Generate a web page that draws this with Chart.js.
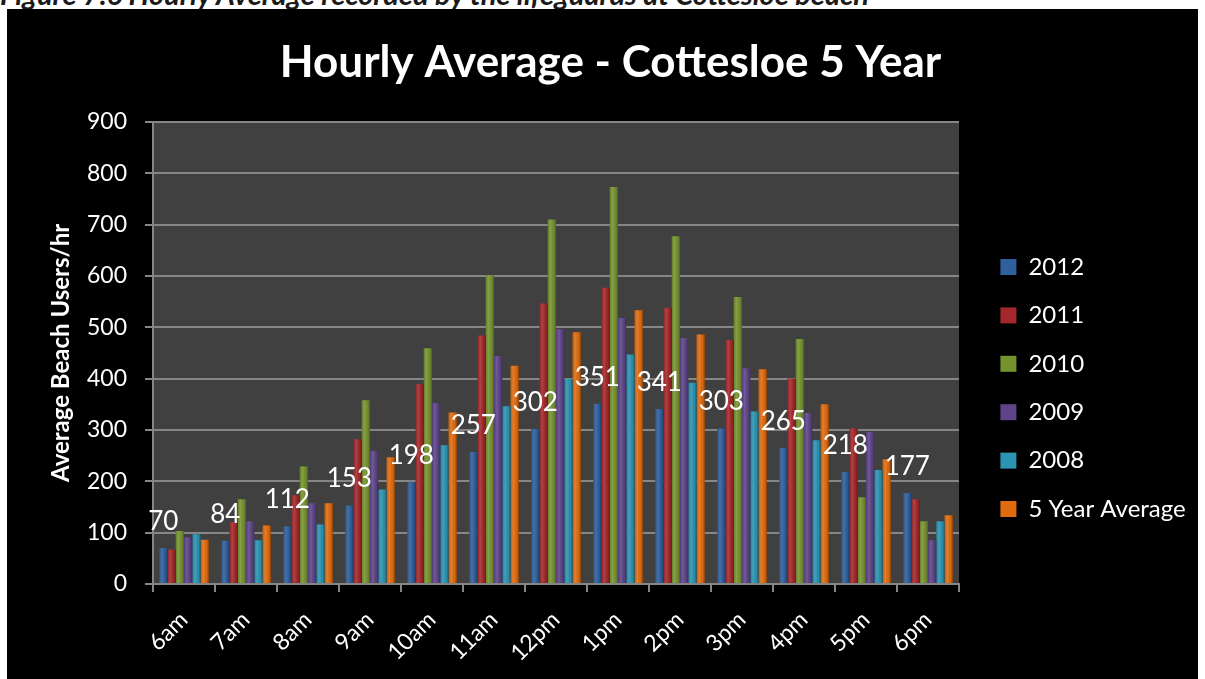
<!DOCTYPE html>
<html>
<head>
<meta charset="utf-8">
<script src="https://cdn.jsdelivr.net/npm/chart.js@4.4.1/dist/chart.umd.min.js"></script>
<style>
    html, body { margin: 0; padding: 0; background: #ffffff; }
    body { width: 1205px; height: 679px; position: relative; overflow: hidden; }
    #caption {
        position: absolute; left: 0; top: -20px; line-height: 28px;
        font-family: Lato, "Open Sans", sans-serif; font-weight: bold; font-style: italic;
        font-size: 29px; color: #1a1a1a; white-space: nowrap;
    }
    #wrap {
        position: absolute; left: 7px; top: 9px; width: 1191px; height: 670px;
        background: #000000;
    }
</style>
</head>
<body>
<div id="caption">Figure 7.6 Hourly Average recorded by the lifeguards at Cottesloe beach</div>
<div id="wrap"><canvas id="hourlyChart"></canvas></div>
<script>
// Hourly average beach users - Cottesloe
const hours = ['6am', '7am', '8am', '9am', '10am', '11am', '12pm', '1pm', '2pm', '3pm', '4pm', '5pm', '6pm'];
const y2012 = [70, 84, 112, 153, 198, 257, 302, 351, 341, 303, 265, 218, 177];
const y2011 = [67, 120, 173, 282, 389, 484, 546, 577, 538, 475, 400, 303, 165];
const y2010 = [103, 165, 229, 358, 459, 601, 710, 773, 677, 559, 477, 169, 122];
const y2009 = [91, 122, 157, 259, 352, 444, 496, 518, 479, 420, 333, 296, 85];
const y2008 = [97, 85, 116, 184, 270, 346, 399, 447, 392, 336, 280, 222, 122];
const avg5 = [86, 114, 157, 247, 334, 425, 490, 533, 486, 418, 350, 243, 134];
const yTicks = [0, 100, 200, 300, 400, 500, 600, 700, 800, 900];

const FONT = 'Lato, "Open Sans", sans-serif';

// dark grey plot area
const plotBackground = {
    id: 'plotBackground',
    beforeDraw(chart) {
        const { ctx, chartArea: a } = chart;
        ctx.save();
        ctx.fillStyle = '#404040';
        ctx.fillRect(a.left, a.top, a.right - a.left, a.bottom - a.top);
        ctx.restore();
    }
};

// cylinder-ish shading on each bar + value labels above the 2012 bars
const barExtras = {
    id: 'barExtras',
    afterDatasetsDraw(chart) {
        const { ctx } = chart;
        ctx.save();
        chart.data.datasets.forEach((ds, d) => {
            chart.getDatasetMeta(d).data.forEach(bar => {
                const w = bar.width;
                const left = bar.x - w / 2;
                const g = ctx.createLinearGradient(left, 0, left + w, 0);
                g.addColorStop(0, 'rgba(0,0,0,0.15)');
                g.addColorStop(0.35, 'rgba(255,255,255,0.12)');
                g.addColorStop(0.75, 'rgba(0,0,0,0.05)');
                g.addColorStop(1, 'rgba(0,0,0,0.35)');
                ctx.fillStyle = g;
                ctx.fillRect(left, bar.y, w, bar.base - bar.y);
            });
        });

        const meta = chart.getDatasetMeta(0);
        ctx.font = '26px ' + FONT;
        ctx.fillStyle = '#ffffff';
        ctx.textAlign = 'center';
        ctx.textBaseline = 'alphabetic';
        meta.data.forEach((bar, i) => {
            ctx.fillText(String(y2012[i]), bar.x, bar.y - 18);
        });
        ctx.restore();
    }
};

const series = [
    { label: '2012', data: y2012, color: '#2f5f9c' },
    { label: '2011', data: y2011, color: '#a4282b' },
    { label: '2010', data: y2010, color: '#76932f' },
    { label: '2009', data: y2009, color: '#5e4589' },
    { label: '2008', data: y2008, color: '#2a94b2' },
    { label: '5 Year Average', data: avg5, color: '#e06c10' }
];

new Chart(document.getElementById('hourlyChart'), {
    type: 'bar',
    data: {
        labels: hours,
        datasets: series.map(s => ({
            label: s.label,
            data: s.data,
            backgroundColor: s.color,
            borderWidth: 0,
            barPercentage: 1.0,
            categoryPercentage: 0.8
        }))
    },
    options: {
        responsive: true,
        maintainAspectRatio: false,
        animation: false,
        layout: { padding: { left: 28, right: 12, top: 0, bottom: 0 } },
        plugins: {
            title: {
                display: true,
                text: 'Hourly Average - Cottesloe 5 Year',
                color: '#ffffff',
                font: { family: FONT, size: 44, weight: 'bold' },
                padding: { top: 27, bottom: 33 }
            },
            legend: {
                position: 'right',
                maxWidth: 210,
                title: { display: true, text: '', font: { size: 10 }, padding: { top: 0, bottom: 76 } },
                labels: {
                    color: '#ffffff',
                    font: { family: FONT, size: 24 },
                    boxWidth: 16,
                    boxHeight: 16,
                    padding: 24.4
                }
            },
            tooltip: { enabled: false }
        },
        scales: {
            x: {
                afterFit: (s) => { s.height = 95; s.paddingLeft = 0; s.paddingRight = 0; },
                grid: { drawOnChartArea: false, color: '#868686', tickLength: 8, lineWidth: 2 },
                border: { color: '#868686', width: 2 },
                ticks: {
                    color: '#ffffff',
                    font: { family: FONT, size: 23 },
                    minRotation: 45,
                    maxRotation: 45,
                    padding: 14
                }
            },
            y: {
                min: 0,
                max: 900,
                afterBuildTicks: (axis) => { axis.ticks = yTicks.map(v => ({ value: v })); },
                afterFit: (s) => { s.width = 118; },
                grid: { color: '#868686', lineWidth: 2, tickLength: 8 },
                border: { color: '#868686', width: 2 },
                ticks: {
                    color: '#ffffff',
                    font: { family: FONT, size: 23 },
                    padding: 18
                },
                title: {
                    display: true,
                    text: 'Average Beach Users/hr',
                    color: '#ffffff',
                    font: { family: FONT, size: 24, weight: 'bold' },
                    padding: { top: 12, bottom: 13 }
                }
            },
            // empty spacer between the plot and the legend
            gap: {
                position: 'right',
                afterFit: (s) => { s.width = 17; },
                grid: { display: false },
                border: { display: false },
                ticks: { display: false }
            }
        }
    },
    plugins: [plotBackground, barExtras]
});
</script>
</body>
</html>
